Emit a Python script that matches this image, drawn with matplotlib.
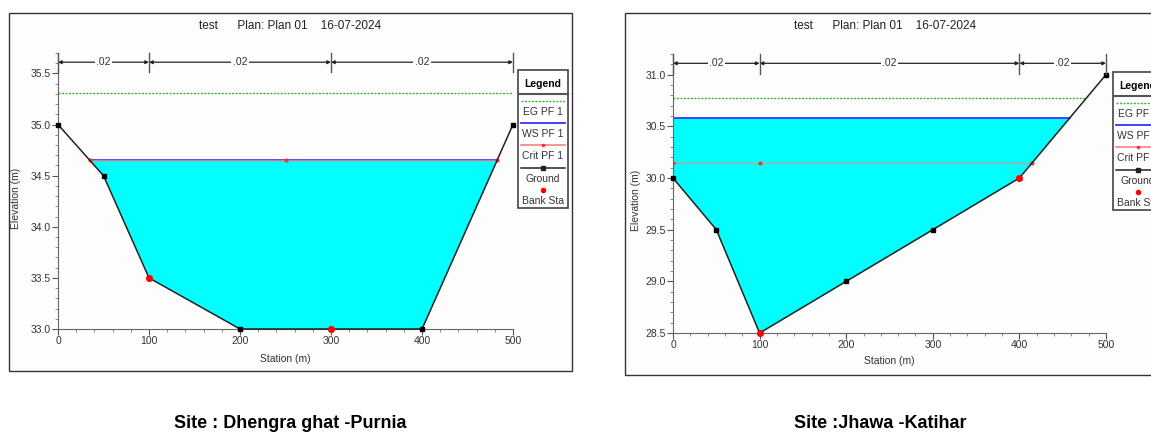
import numpy as np
import matplotlib.pyplot as plt
from matplotlib.patches import Rectangle
from matplotlib.lines import Line2D
from matplotlib.ticker import MultipleLocator

plt.rcParams['font.family'] = ['Liberation Sans Narrow', 'Liberation Sans', 'DejaVu Sans']

# ---- data ----
station = [0, 50, 100, 200, 300, 400, 500]

ground_purnia = [35.0, 34.5, 33.5, 33.0, 33.0, 33.0, 35.0]
bank_purnia = [100, 300]
nbound_purnia = [0, 100, 300, 500]
nval_purnia = [".02", ".02", ".02"]
ws_purnia = 34.65
crit_purnia = 34.65
eg_purnia = 35.31
crit_mark_purnia = [250]

ground_katihar = [30.0, 29.5, 28.5, 29.0, 29.5, 30.0, 31.0]
bank_katihar = [100, 400]
nbound_katihar = [0, 100, 400, 500]
nval_katihar = [".02", ".02", ".02"]
ws_katihar = 30.58
crit_katihar = 30.15
eg_katihar = 30.77
crit_mark_katihar = [100]

title = "test      Plan: Plan 01    16-07-2024"
captions = ["Site : Dhengra ghat -Purnia", "Site :Jhawa -Katihar"]

W, H = 1151, 437
fig = plt.figure(figsize=(W / 100, H / 100), dpi=100)


def px(x, y):
    return x / W, 1 - y / H


def wet_extent(x, g, level):
    # stations where ground crosses a level (first from the left, last from the right)
    x = np.asarray(x, float)
    g = np.asarray(g, float)
    left, right = x[0], x[-1]
    for i in range(len(x) - 1):
        if g[i] > level >= g[i + 1]:
            left = x[i] + (g[i] - level) / (g[i] - g[i + 1]) * (x[i + 1] - x[i])
            break
    for i in range(len(x) - 1, 0, -1):
        if g[i] > level >= g[i - 1]:
            right = x[i - 1] + (level - g[i - 1]) / (g[i] - g[i - 1]) * (x[i] - x[i - 1])
            break
    return left, right


def draw_xs(ax, g, bank, nb, nv, ws, crit, eg, crit_mark, ylim, ylab_xy, xlab_xy):
    x = np.array(station, float)
    g = np.array(g, float)
    xf = np.linspace(0, 500, 2001)
    gf = np.interp(xf, x, g)
    ax.fill_between(xf, gf, ws, where=gf <= ws, color='#00ffff', lw=0, zorder=1)

    l, r = wet_extent(x, g, eg)
    ax.plot([l, r], [eg, eg], color='#33bb33', lw=1, ls=(0, (1.5, 1)), zorder=2)
    l, r = wet_extent(x, g, ws)
    ax.plot([l, r], [ws, ws], color='#3333ff', lw=1.3, zorder=2)
    l, r = wet_extent(x, g, crit)
    ax.plot([l, r], [crit, crit], color='#ff8080', lw=1.0, alpha=0.8, zorder=3)
    ax.plot(crit_mark, [crit] * len(crit_mark), 'o', color='#ff3030', ms=2, zorder=3)
    ax.plot([l, r], [crit, crit], 'o', color='#ff3030', ms=2, zorder=3)

    ax.plot(x, g, color='#222222', lw=1.1, marker='s', ms=3.5, mfc='black', mec='black',
            zorder=4, clip_on=False)
    bg = np.interp(bank, x, g)
    ax.plot(bank, bg, 'o', color='red', ms=4, zorder=5, clip_on=False)

    ax.set_xlim(0, 500)
    ax.set_ylim(*ylim)
    # Manning's n bar
    yn = ylim[1] - 0.09
    for b in nb:
        ax.plot([b, b], [ylim[1] - 0.19, ylim[1]], color='#555555', lw=1, clip_on=False, zorder=5)
    for i in range(len(nb) - 1):
        ax.annotate('', xy=(nb[i + 1], yn), xytext=(nb[i], yn),
                    arrowprops=dict(arrowstyle='<|-|>', color='#222222', lw=0.9,
                                    mutation_scale=5, shrinkA=0, shrinkB=0))
        ax.text((nb[i] + nb[i + 1]) / 2, yn, nv[i], ha='center', va='center', fontsize=7.5,
                color='#333333', bbox=dict(fc='#fdfdfd', ec='none', pad=1))

    for s in ['top', 'right']:
        ax.spines[s].set_visible(False)
    for s in ['left', 'bottom']:
        ax.spines[s].set_color('#666666')
    ax.set_facecolor('#fdfdfd')
    ax.xaxis.set_major_locator(MultipleLocator(100))
    ax.xaxis.set_minor_locator(MultipleLocator(20))
    ax.yaxis.set_major_locator(MultipleLocator(0.5))
    ax.yaxis.set_minor_locator(MultipleLocator(0.1))
    ax.yaxis.set_major_formatter(plt.FormatStrFormatter('%.1f'))
    ax.tick_params(which='major', length=4, labelsize=7.5, colors='#555555', labelcolor='#333333', pad=1)
    ax.tick_params(which='minor', length=2, colors='#777777')
    ax.set_xlabel('Station (m)', fontsize=7.5, color='#333333', va='center')
    ax.set_ylabel('Elevation (m)', fontsize=7.5, color='#333333', va='center')
    ax.yaxis.set_label_coords(*ylab_xy)
    ax.xaxis.set_label_coords(*xlab_xy)


def draw_legend(x0, y0, w):
    fig.patches.append(Rectangle(px(x0, y0 + 138), w / W, 138 / H, transform=fig.transFigure,
                                 fc='white', ec='#444444', lw=1.2, zorder=5))
    cx = x0 + w / 2
    fig.text(*px(cx, y0 + 14), 'Legend', ha='center', va='center', fontsize=7.5, weight='bold', zorder=6)
    for yy in (y0 + 22.5, y0 + 24):
        fig.add_artist(Line2D([px(x0, 0)[0], px(x0 + w, 0)[0]], [px(0, yy)[1]] * 2,
                              color='#555555', lw=0.8, zorder=6))
    items = [('EG PF 1', dict(color='#33bb33', lw=1, ls=(0, (1.5, 1)))),
             ('WS PF 1', dict(color='#3333ff', lw=1.3)),
             ('Crit PF 1', dict(color='#ff8080', lw=1.2)),
             ('Ground', dict(color='#222222', lw=1.1, marker='s', ms=3.5, markevery=[1])),
             ('Bank Sta', dict(color='red', lw=0, marker='o', ms=3, markevery=[1]))]
    for k, (lab, st) in enumerate(items):
        yl = y0 + 31 + k * 22.2
        xs = [px(x0 + 3, 0)[0], px(cx, 0)[0], px(x0 + w - 3, 0)[0]]
        fig.add_artist(Line2D(xs, [px(0, yl)[1]] * 3, zorder=6, **st))
        if lab == 'Crit PF 1':
            fig.add_artist(Line2D([xs[1]], [px(0, yl)[1]], marker='o', ms=1.5, color='#ff3030', lw=0, zorder=6))
        fig.text(*px(cx, yl + 11), lab, ha='center', va='center', fontsize=7.5, color='#333333', zorder=6)


# frames
fig.patches.append(Rectangle(px(9, 371), 563 / W, 358 / H, transform=fig.transFigure,
                             fc='#fdfdfd', ec='#333333', lw=1, zorder=-2))
fig.patches.append(Rectangle(px(625, 375), 560 / W, 362 / H, transform=fig.transFigure,
                             fc='#fdfdfd', ec='#333333', lw=1, zorder=-2))

ax1 = fig.add_axes([58 / W, 108 / H, 455 / W, 276 / H])
draw_xs(ax1, ground_purnia, bank_purnia, nbound_purnia, nval_purnia,
        ws_purnia, crit_purnia, eg_purnia, crit_mark_purnia, (33.0, 35.7),
        ((16 - 58) / 455, (329 - 198) / 276), (0.5, (329 - 359) / 276))
ax2 = fig.add_axes([673 / W, 104 / H, 433 / W, 279 / H])
draw_xs(ax2, ground_katihar, bank_katihar, nbound_katihar, nval_katihar,
        ws_katihar, crit_katihar, eg_katihar, crit_mark_katihar, (28.5, 31.2),
        ((636 - 673) / 433, (333 - 200) / 279), (0.5, (333 - 361) / 279))

fig.text(*px(290, 26), title, ha='center', va='center', fontsize=8.5, color='#222222')
fig.text(*px(885, 26), title, ha='center', va='center', fontsize=8.5, color='#222222')

draw_legend(518, 70, 50)
draw_legend(1113, 72, 50)

fig.text(*px(290, 423), captions[0], ha='center', va='center', fontsize=13,
         weight='bold', family='Liberation Sans')
fig.text(*px(880, 423), captions[1], ha='center', va='center', fontsize=13,
         weight='bold', family='Liberation Sans')

fig.savefig('out.png', dpi=100)
